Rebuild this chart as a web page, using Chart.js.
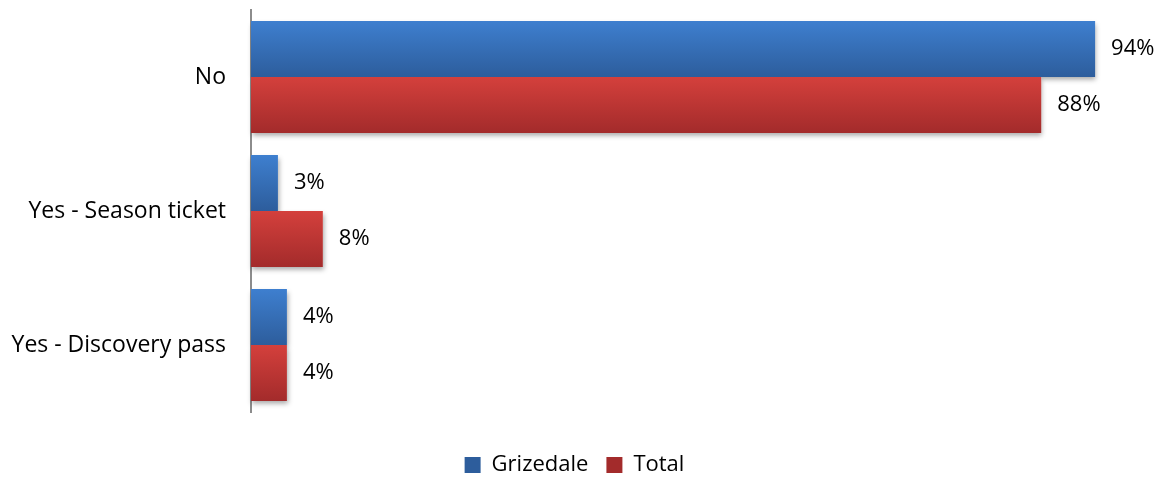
<!DOCTYPE html>
<html>
<head>
<meta charset="utf-8">
<title>Pass ownership</title>
<script src="https://cdn.jsdelivr.net/npm/chart.js"></script>
<style>
  html, body { margin: 0; padding: 0; background: #fff; }
  #chart { display: block; }
</style>
</head>
<body>
<canvas id="chart" width="1166" height="478"></canvas>
<script>
const categories = ['No', 'Yes - Season ticket', 'Yes - Discovery pass']
const grizedale = [94, 3, 4]
const total = [88, 8, 4]

const FONT = '"Open Sans", "Noto Sans", sans-serif'
const FONT_SIZE = 23
const CAT_PCT = 0.836

// top/bottom colours for the bar gradients
const blue = ['#3e7fcf', '#2d5d9c']
const red = ['#d4403c', '#a32b2b']

function barGradient(colors) {
    return (ctx) => {
        const chart = ctx.chart
        if (ctx.type !== 'data' || !chart.chartArea) return colors[0]
        const y = chart.scales.y
        const band = y.getPixelForValue(1) - y.getPixelForValue(0)
        const h = band * CAT_PCT / 2
        const center = y.getPixelForValue(ctx.dataIndex)
        const top = ctx.datasetIndex === 0 ? center - h : center
        const g = chart.ctx.createLinearGradient(0, top, 0, top + h)
        g.addColorStop(0, colors[0])
        g.addColorStop(1, colors[1])
        return g
    }
}

// soft shadow under each bar, painted before the bars themselves
const barShadow = {
    id: 'barShadow',
    beforeDatasetsDraw(chart) {
        const c = chart.ctx
        c.save()
        c.shadowColor = 'rgba(0,0,0,0.35)'
        c.shadowBlur = 5
        c.shadowOffsetX = 1
        c.shadowOffsetY = 3
        c.fillStyle = '#fff'
        chart.data.datasets.forEach((ds, i) => {
            chart.getDatasetMeta(i).data.forEach(bar => {
                const p = bar.getProps(['x', 'y', 'base', 'height'], true)
                c.fillRect(p.base, p.y - p.height / 2, p.x - p.base, p.height)
            })
        })
        c.restore()
    }
}

// percentage labels to the right of every bar
const valueLabels = {
    id: 'valueLabels',
    afterDatasetsDraw(chart) {
        const c = chart.ctx
        c.save()
        c.font = (FONT_SIZE - 1) + 'px ' + FONT
        c.fillStyle = '#000'
        c.textBaseline = 'middle'
        c.textAlign = 'left'
        chart.data.datasets.forEach((ds, i) => {
            chart.getDatasetMeta(i).data.forEach((bar, j) => {
                const p = bar.getProps(['x', 'y'], true)
                c.fillText(ds.data[j] + '%', p.x + 16, p.y)
            })
        })
        c.restore()
    }
}

new Chart(document.getElementById('chart'), {
    type: 'bar',
    data: {
        labels: categories,
        datasets: [{
            label: 'Grizedale',
            data: grizedale,
            backgroundColor: barGradient(blue),
            categoryPercentage: CAT_PCT,
            barPercentage: 1
        }, {
            label: 'Total',
            data: total,
            backgroundColor: barGradient(red),
            categoryPercentage: CAT_PCT,
            barPercentage: 1
        }]
    },
    options: {
        indexAxis: 'y',
        responsive: false,
        animation: false,
        layout: { padding: { top: 10, right: 17, left: 0, bottom: 0 } },
        scales: {
            x: {
                min: 0,
                max: 100,
                grid: { display: false, drawTicks: false },
                border: { display: false },
                ticks: { display: false },
                // empty strip between the bars and the legend
                afterFit(scale) { scale.height = 24 }
            },
            y: {
                grid: { display: false, drawTicks: false },
                border: { display: true, color: '#8c8c8c', width: 2 },
                ticks: {
                    color: '#000',
                    padding: 25,
                    font: { family: FONT, size: FONT_SIZE }
                },
                afterFit(scale) {
                    scale.width = 251
                    scale.paddingTop = 0
                    scale.paddingBottom = 0
                }
            }
        },
        plugins: {
            legend: {
                position: 'bottom',
                maxHeight: 42,
                labels: {
                    color: '#000',
                    boxWidth: 16,
                    boxHeight: 16,
                    padding: 18,
                    font: { family: FONT, size: 22 }
                }
            },
            tooltip: { enabled: false }
        }
    },
    plugins: [barShadow, valueLabels]
})
</script>
</body>
</html>
